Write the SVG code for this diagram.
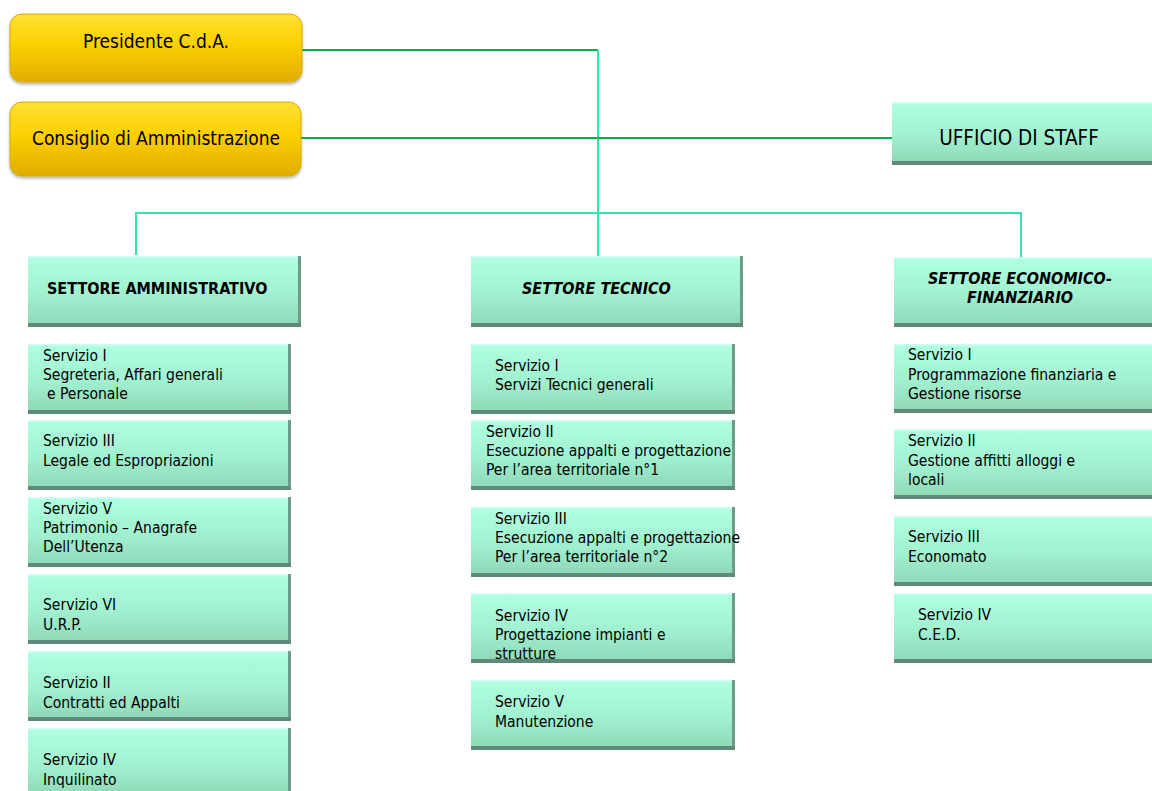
<svg xmlns="http://www.w3.org/2000/svg" width="1152" height="791" viewBox="0 0 1152 791">
<defs>
<linearGradient id="gold" x1="0" y1="0" x2="0" y2="1">
<stop offset="0" stop-color="#ffe033"/>
<stop offset="0.45" stop-color="#fcd000"/>
<stop offset="1" stop-color="#e0ac00"/>
</linearGradient>
<linearGradient id="mint" x1="0" y1="0" x2="0" y2="1">
<stop offset="0" stop-color="#b0ffe0"/>
<stop offset="0.5" stop-color="#a2f2d2"/>
<stop offset="1" stop-color="#8ed6b6"/>
</linearGradient>
<filter id="sh" x="-5%" y="-10%" width="110%" height="130%">
<feDropShadow dx="0" dy="2" stdDeviation="1.5" flood-color="#000" flood-opacity="0.3"/>
</filter>
</defs>
<style>
.gold{fill:url(#gold);stroke:#d9ac00;stroke-width:1}
.mint{fill:url(#mint)}
.hl{fill:#c8fff0}
.dk{fill:#5f8a78}
.dr{fill:#6f9c88}
.t{font-family:"DejaVu Sans Condensed","DejaVu Sans",sans-serif;font-size:15.5px;fill:#000}
.big{font-family:"DejaVu Sans Condensed","DejaVu Sans",sans-serif;font-size:19px;fill:#000}
.stf{font-family:"DejaVu Sans Condensed","DejaVu Sans",sans-serif;font-size:20.5px;fill:#000}
.hd{font-family:"DejaVu Sans Condensed","DejaVu Sans",sans-serif;font-size:16px;font-weight:bold;fill:#000}
.hdi{font-family:"DejaVu Sans Condensed","DejaVu Sans",sans-serif;font-size:16px;font-weight:bold;font-style:italic;fill:#000}
.c1{fill:none;stroke:#00b050;stroke-width:2}
.c2{fill:none;stroke:#2ee8a8;stroke-width:2}
</style>

<g id="connectors">
<polyline class="c1" points="302,50 598,50"/>
<polyline class="c2" points="598,50 598,258"/>
<polyline class="c1" points="301,138 892,138"/>
<polyline class="c2" points="136,255 136,213 1021,213 1021,258"/>
</g>

<g id="presidente">
<rect class="gold" x="10" y="14" width="292" height="68" rx="12" filter="url(#sh)"/>
<text class="big" x="156" y="48" text-anchor="middle">Presidente C.d.A.</text>
</g>
<g id="consiglio">
<rect class="gold" x="10" y="102" width="291" height="74" rx="12" filter="url(#sh)"/>
<text class="big" x="156" y="145" text-anchor="middle">Consiglio di Amministrazione</text>
</g>

<g id="staff">
<rect class="mint" x="892" y="102" width="260" height="63"/>
<rect class="dk" x="892" y="161" width="260" height="4"/>
<rect class="hl" x="892" y="102" width="260" height="2"/>
<text class="stf" x="1019" y="145" text-anchor="middle">UFFICIO DI STAFF</text>
</g>

<g id="settore-amministrativo">
<rect class="mint" x="28" y="256" width="273" height="71"/>
<rect class="hl" x="28" y="256" width="273" height="2"/>
<rect class="dr" x="298" y="256" width="3" height="71"/>
<rect class="dk" x="28" y="323" width="273" height="4"/>
<text class="hd" x="47" y="294">SETTORE AMMINISTRATIVO</text>
</g>
<g id="settore-tecnico">
<rect class="mint" x="471" y="256" width="272" height="71"/>
<rect class="hl" x="471" y="256" width="272" height="2"/>
<rect class="dr" x="740" y="256" width="3" height="71"/>
<rect class="dk" x="471" y="323" width="272" height="4"/>
<text class="hdi" x="522" y="294">SETTORE TECNICO</text>
</g>
<g id="settore-economico">
<rect class="mint" x="894" y="257" width="258" height="70"/>
<rect class="hl" x="894" y="257" width="258" height="2"/>
<rect class="dk" x="894" y="323" width="258" height="4"/>
<text class="hdi" x="1020" y="284" text-anchor="middle">SETTORE ECONOMICO-</text>
<text class="hdi" x="1020" y="303" text-anchor="middle">FINANZIARIO</text>
</g>

<!-- Admin column -->
<g id="amm-s1">
<rect class="mint" x="28" y="344" width="263" height="70"/>
<rect class="hl" x="28" y="344" width="263" height="2"/>
<rect class="dr" x="288" y="344" width="3" height="70"/>
<rect class="dk" x="28" y="410" width="263" height="4"/>
<text class="t" x="43" y="361">Servizio I</text>
<text class="t" x="43" y="380">Segreteria, Affari generali</text>
<text class="t" x="47" y="399">e Personale</text>
</g>
<g id="amm-s3">
<rect class="mint" x="28" y="420" width="263" height="70"/>
<rect class="hl" x="28" y="420" width="263" height="2"/>
<rect class="dr" x="288" y="420" width="3" height="70"/>
<rect class="dk" x="28" y="486" width="263" height="4"/>
<text class="t" x="43" y="446">Servizio III</text>
<text class="t" x="43" y="466">Legale ed Espropriazioni</text>
</g>
<g id="amm-s5">
<rect class="mint" x="28" y="497" width="263" height="70"/>
<rect class="hl" x="28" y="497" width="263" height="2"/>
<rect class="dr" x="288" y="497" width="3" height="70"/>
<rect class="dk" x="28" y="563" width="263" height="4"/>
<text class="t" x="43" y="514">Servizio V</text>
<text class="t" x="43" y="533">Patrimonio – Anagrafe</text>
<text class="t" x="43" y="552">Dell’Utenza</text>
</g>
<g id="amm-s6">
<rect class="mint" x="28" y="574" width="263" height="70"/>
<rect class="hl" x="28" y="574" width="263" height="2"/>
<rect class="dr" x="288" y="574" width="3" height="70"/>
<rect class="dk" x="28" y="640" width="263" height="4"/>
<text class="t" x="43" y="610">Servizio VI</text>
<text class="t" x="43" y="630">U.R.P.</text>
</g>
<g id="amm-s2">
<rect class="mint" x="28" y="651" width="263" height="70"/>
<rect class="hl" x="28" y="651" width="263" height="2"/>
<rect class="dr" x="288" y="651" width="3" height="70"/>
<rect class="dk" x="28" y="717" width="263" height="4"/>
<text class="t" x="43" y="688">Servizio II</text>
<text class="t" x="43" y="708">Contratti ed Appalti</text>
</g>
<g id="amm-s4">
<rect class="mint" x="28" y="728" width="263" height="70"/>
<rect class="hl" x="28" y="728" width="263" height="2"/>
<rect class="dr" x="288" y="728" width="3" height="70"/>
<text class="t" x="43" y="765">Servizio IV</text>
<text class="t" x="43" y="785">Inquilinato</text>
</g>

<!-- Tech column -->
<g id="tec-s1">
<rect class="mint" x="471" y="344" width="264" height="70"/>
<rect class="hl" x="471" y="344" width="264" height="2"/>
<rect class="dr" x="732" y="344" width="3" height="70"/>
<rect class="dk" x="471" y="410" width="264" height="4"/>
<text class="t" x="495" y="371">Servizio I</text>
<text class="t" x="495" y="390">Servizi Tecnici generali</text>
</g>
<g id="tec-s2">
<rect class="mint" x="471" y="420" width="264" height="70"/>
<rect class="hl" x="471" y="420" width="264" height="2"/>
<rect class="dr" x="732" y="420" width="3" height="70"/>
<rect class="dk" x="471" y="486" width="264" height="4"/>
<text class="t" x="486" y="437">Servizio II</text>
<text class="t" x="486" y="456">Esecuzione appalti e progettazione</text>
<text class="t" x="486" y="475">Per l’area territoriale n°1</text>
</g>
<g id="tec-s3">
<rect class="mint" x="471" y="507" width="264" height="70"/>
<rect class="hl" x="471" y="507" width="264" height="2"/>
<rect class="dr" x="732" y="507" width="3" height="70"/>
<rect class="dk" x="471" y="573" width="264" height="4"/>
<text class="t" x="495" y="524">Servizio III</text>
<text class="t" x="495" y="543">Esecuzione appalti e progettazione</text>
<text class="t" x="495" y="562">Per l’area territoriale n°2</text>
</g>
<g id="tec-s4">
<rect class="mint" x="471" y="593" width="264" height="70"/>
<rect class="hl" x="471" y="593" width="264" height="2"/>
<rect class="dr" x="732" y="593" width="3" height="70"/>
<rect class="dk" x="471" y="659" width="264" height="4"/>
<text class="t" x="495" y="621">Servizio IV</text>
<text class="t" x="495" y="640">Progettazione impianti e</text>
<text class="t" x="495" y="659">strutture</text>
</g>
<g id="tec-s5">
<rect class="mint" x="471" y="680" width="264" height="70"/>
<rect class="hl" x="471" y="680" width="264" height="2"/>
<rect class="dr" x="732" y="680" width="3" height="70"/>
<rect class="dk" x="471" y="746" width="264" height="4"/>
<text class="t" x="495" y="707">Servizio V</text>
<text class="t" x="495" y="727">Manutenzione</text>
</g>

<!-- Economic column -->
<g id="eco-s1">
<rect class="mint" x="894" y="344" width="258" height="69"/>
<rect class="hl" x="894" y="344" width="258" height="2"/>
<rect class="dk" x="894" y="409" width="258" height="4"/>
<text class="t" x="908" y="360">Servizio I</text>
<text class="t" x="908" y="380">Programmazione finanziaria e</text>
<text class="t" x="908" y="399">Gestione risorse</text>
</g>
<g id="eco-s2">
<rect class="mint" x="894" y="429" width="258" height="70"/>
<rect class="hl" x="894" y="429" width="258" height="2"/>
<rect class="dk" x="894" y="495" width="258" height="4"/>
<text class="t" x="908" y="446">Servizio II</text>
<text class="t" x="908" y="466">Gestione affitti alloggi e</text>
<text class="t" x="908" y="485">locali</text>
</g>
<g id="eco-s3">
<rect class="mint" x="894" y="516" width="258" height="70"/>
<rect class="hl" x="894" y="516" width="258" height="2"/>
<rect class="dk" x="894" y="582" width="258" height="4"/>
<text class="t" x="908" y="542">Servizio III</text>
<text class="t" x="908" y="562">Economato</text>
</g>
<g id="eco-s4">
<rect class="mint" x="894" y="593" width="258" height="70"/>
<rect class="hl" x="894" y="593" width="258" height="2"/>
<rect class="dk" x="894" y="659" width="258" height="4"/>
<text class="t" x="918" y="620">Servizio IV</text>
<text class="t" x="918" y="640">C.E.D.</text>
</g>
</svg>
